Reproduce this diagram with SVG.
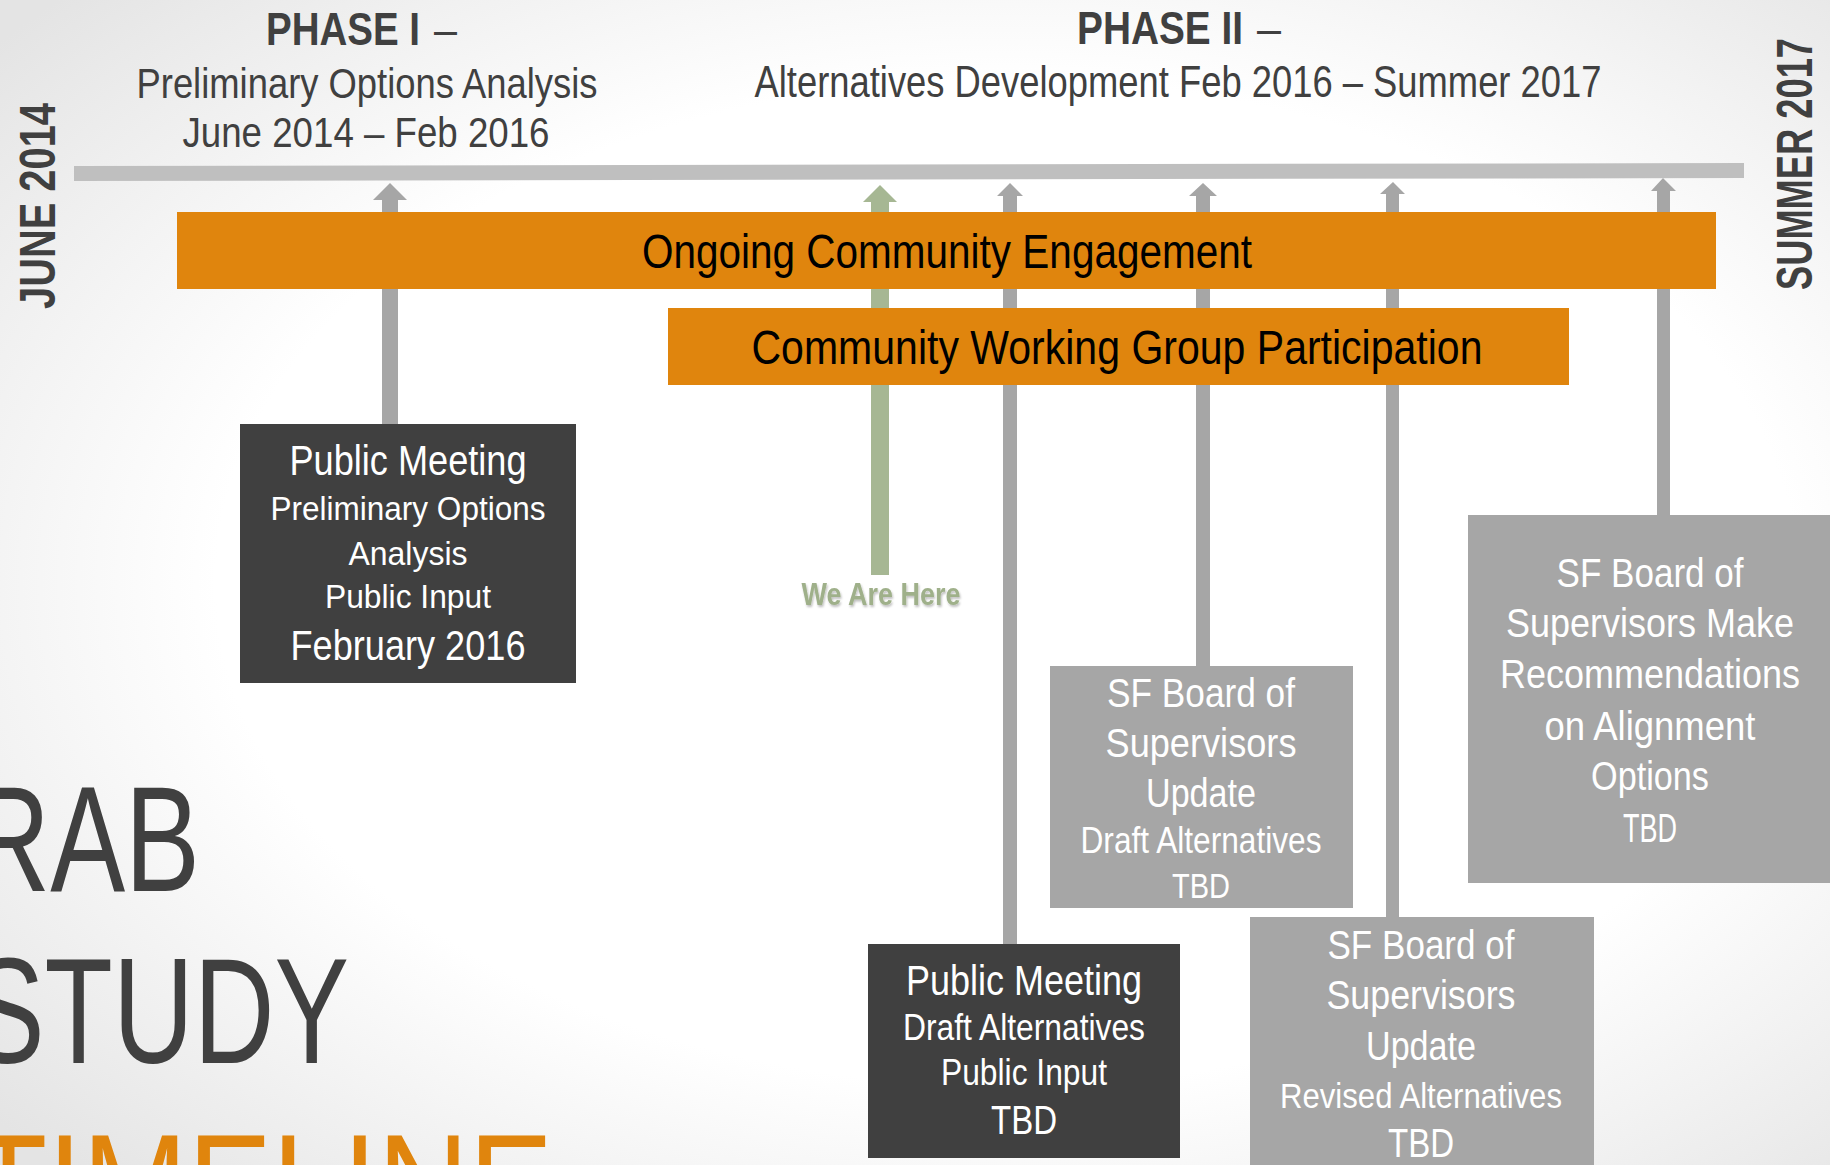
<svg xmlns="http://www.w3.org/2000/svg" width="1830" height="1165" viewBox="0 0 1830 1165">
  <defs>
    <radialGradient id="bg" cx="0.55" cy="0.5" r="0.72">
      <stop offset="0" stop-color="#ffffff"/>
      <stop offset="0.6" stop-color="#ffffff"/>
      <stop offset="1" stop-color="#e4e4e4"/>
    </radialGradient>
    <filter id="sh" x="-10%" y="-30%" width="120%" height="160%">
      <feDropShadow dx="1" dy="2" stdDeviation="1.2" flood-color="#000" flood-opacity="0.25"/>
    </filter>
  </defs>
  <style>
    text { font-family: "Liberation Sans Narrow", "Liberation Sans", Arial, sans-serif; }
    .hd { fill: #404040; font-weight: bold; }
    .dash { fill: #404040; }
    .sub { fill: #404040; text-anchor: middle; }
    .side { fill: #404040; font-weight: bold; font-size: 50px; }
    .big { fill: #404040; font-size: 150px; }
    .bar { fill: #e0850d; }
    .bartx { fill: #000; font-size: 49px; text-anchor: middle; }
    .dark { fill: #404040; }
    .grey { fill: #a6a6a6; }
    .bt { fill: #fff; text-anchor: middle; }
    .conn { fill: #a6a6a6; }
    .here { fill: #a6b793; }
  </style>

  <rect x="0" y="0" width="1830" height="1165" fill="url(#bg)"/>

  <!-- big title text (cut off at left) -->
  <text class="big" x="-31" y="891" textLength="231" lengthAdjust="spacingAndGlyphs">RAB</text>
  <text class="big" x="-30" y="1063" textLength="379" lengthAdjust="spacingAndGlyphs">STUDY</text>
  <text class="big" x="-30" y="1239" textLength="583" lengthAdjust="spacingAndGlyphs" style="fill:#e0850d">TIMELINE</text>

  <!-- side date labels -->
  <text class="side" transform="translate(55,309) rotate(-90)" textLength="206" lengthAdjust="spacingAndGlyphs">JUNE 2014</text>
  <text class="side" transform="translate(1812,290) rotate(-90)" textLength="252" lengthAdjust="spacingAndGlyphs">SUMMER 2017</text>

  <!-- phase headers -->
  <g id="phase1">
    <text class="hd" x="266" y="45" font-size="46" textLength="154" lengthAdjust="spacingAndGlyphs">PHASE I</text>
    <text class="dash" x="434" y="45" font-size="44" textLength="23" lengthAdjust="spacingAndGlyphs">–</text>
    <text class="sub" x="367" y="98" font-size="42" textLength="461" lengthAdjust="spacingAndGlyphs">Preliminary Options Analysis</text>
    <text class="sub" x="366" y="147" font-size="43" textLength="367" lengthAdjust="spacingAndGlyphs">June 2014 – Feb 2016</text>
  </g>
  <g id="phase2">
    <text class="hd" x="1077" y="44" font-size="47" textLength="166" lengthAdjust="spacingAndGlyphs">PHASE II</text>
    <text class="dash" x="1257" y="44" font-size="44" textLength="24" lengthAdjust="spacingAndGlyphs">–</text>
    <text class="sub" x="1178" y="97" font-size="44" textLength="847" lengthAdjust="spacingAndGlyphs">Alternatives Development Feb 2016 – Summer 2017</text>
  </g>

  <!-- timeline -->
  <g id="timeline">
    <polygon points="74,166 1744,163 1744,178 74,181" fill="#bfbfbf"/>
  </g>

  <!-- connectors -->
  <g id="connectors">
    <path class="conn" d="M390,183 L407,200 L398,200 L398,426 L382,426 L382,200 L373,200 Z"/>
    <path class="here" d="M880,185 L897,202 L889,202 L889,575 L871,575 L871,202 L863,202 Z"/>
    <path class="conn" d="M1010,183 L1023,196 L1017,196 L1017,946 L1003,946 L1003,196 L997,196 Z"/>
    <path class="conn" d="M1203,183 L1217,196 L1210,196 L1210,668 L1196,668 L1196,196 L1189,196 Z"/>
    <path class="conn" d="M1393,182 L1405,194 L1399,194 L1399,919 L1386,919 L1386,194 L1380,194 Z"/>
    <path class="conn" d="M1663,178 L1676,191 L1670,191 L1670,517 L1657,517 L1657,191 L1651,191 Z"/>
  </g>

  <!-- orange bars -->
  <g id="ongoing">
    <rect class="bar" x="177" y="212" width="1539" height="77"/>
    <text class="bartx" x="947" y="268" textLength="610" lengthAdjust="spacingAndGlyphs">Ongoing Community Engagement</text>
  </g>
  <g id="cwg">
    <rect class="bar" x="668" y="308" width="901" height="77"/>
    <text class="bartx" x="1117" y="364" textLength="731" lengthAdjust="spacingAndGlyphs">Community Working Group Participation</text>
  </g>

  <!-- we are here -->
  <g id="we-are-here">
    <text x="881" y="605" font-size="31" font-weight="bold" text-anchor="middle" fill="#9fb08a" filter="url(#sh)" textLength="159" lengthAdjust="spacingAndGlyphs">We Are Here</text>
  </g>

  <!-- boxes -->
  <g id="pm1">
    <rect class="dark" x="240" y="424" width="336" height="259"/>
    <text class="bt" x="408" y="475" font-size="42" textLength="237" lengthAdjust="spacingAndGlyphs">Public Meeting</text>
    <text class="bt" x="408" y="520" font-size="33" textLength="275" lengthAdjust="spacingAndGlyphs">Preliminary Options</text>
    <text class="bt" x="408" y="565" font-size="33" textLength="119" lengthAdjust="spacingAndGlyphs">Analysis</text>
    <text class="bt" x="408" y="608" font-size="33" textLength="166" lengthAdjust="spacingAndGlyphs">Public Input</text>
    <text class="bt" x="408" y="660" font-size="43" textLength="235" lengthAdjust="spacingAndGlyphs">February 2016</text>
  </g>

  <g id="pm2">
    <rect class="dark" x="868" y="944" width="312" height="214"/>
    <text class="bt" x="1024" y="995" font-size="42" textLength="236" lengthAdjust="spacingAndGlyphs">Public Meeting</text>
    <text class="bt" x="1024" y="1040" font-size="37" textLength="242" lengthAdjust="spacingAndGlyphs">Draft Alternatives</text>
    <text class="bt" x="1024" y="1085" font-size="37" textLength="166" lengthAdjust="spacingAndGlyphs">Public Input</text>
    <text class="bt" x="1024" y="1134" font-size="40" textLength="66" lengthAdjust="spacingAndGlyphs">TBD</text>
  </g>

  <g id="bos1">
    <rect class="grey" x="1050" y="666" width="303" height="242"/>
    <text class="bt" x="1201" y="707" font-size="41" textLength="188" lengthAdjust="spacingAndGlyphs">SF Board of</text>
    <text class="bt" x="1201" y="757" font-size="41" textLength="191" lengthAdjust="spacingAndGlyphs">Supervisors</text>
    <text class="bt" x="1201" y="807" font-size="41" textLength="110" lengthAdjust="spacingAndGlyphs">Update</text>
    <text class="bt" x="1201" y="853" font-size="36" textLength="241" lengthAdjust="spacingAndGlyphs">Draft Alternatives</text>
    <text class="bt" x="1201" y="898" font-size="35" textLength="58" lengthAdjust="spacingAndGlyphs">TBD</text>
  </g>

  <g id="bos2">
    <rect class="grey" x="1250" y="917" width="344" height="248"/>
    <text class="bt" x="1421" y="959" font-size="41" textLength="187" lengthAdjust="spacingAndGlyphs">SF Board of</text>
    <text class="bt" x="1421" y="1009" font-size="41" textLength="189" lengthAdjust="spacingAndGlyphs">Supervisors</text>
    <text class="bt" x="1421" y="1060" font-size="41" textLength="110" lengthAdjust="spacingAndGlyphs">Update</text>
    <text class="bt" x="1421" y="1108" font-size="35" textLength="282" lengthAdjust="spacingAndGlyphs">Revised Alternatives</text>
    <text class="bt" x="1421" y="1157" font-size="40" textLength="66" lengthAdjust="spacingAndGlyphs">TBD</text>
  </g>

  <g id="bos3">
    <rect class="grey" x="1468" y="515" width="362" height="368"/>
    <text class="bt" x="1650" y="587" font-size="40" textLength="187" lengthAdjust="spacingAndGlyphs">SF Board of</text>
    <text class="bt" x="1650" y="637" font-size="40" textLength="288" lengthAdjust="spacingAndGlyphs">Supervisors Make</text>
    <text class="bt" x="1650" y="688" font-size="40" textLength="300" lengthAdjust="spacingAndGlyphs">Recommendations</text>
    <text class="bt" x="1650" y="740" font-size="40" textLength="211" lengthAdjust="spacingAndGlyphs">on Alignment</text>
    <text class="bt" x="1650" y="790" font-size="40" textLength="118" lengthAdjust="spacingAndGlyphs">Options</text>
    <text class="bt" x="1650" y="842" font-size="40" textLength="54" lengthAdjust="spacingAndGlyphs">TBD</text>
  </g>
</svg>
